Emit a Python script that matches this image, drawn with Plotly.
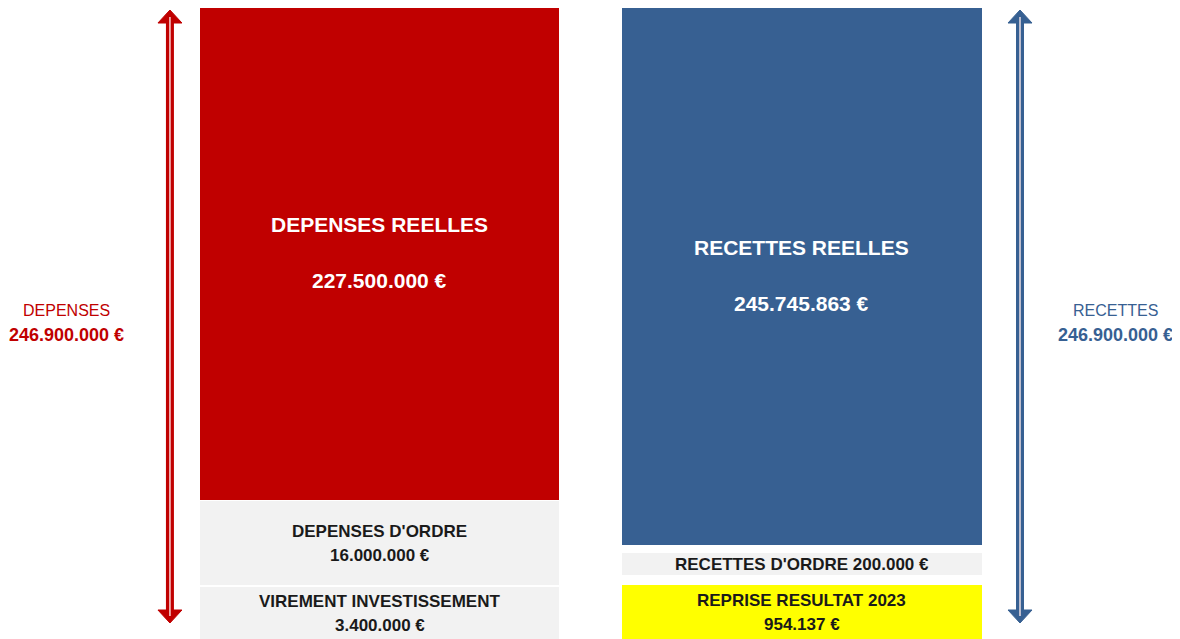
import plotly.graph_objects as go

# ---------------- data ----------------
categories = ["DEPENSES", "RECETTES"]

dep_labels = ["VIREMENT INVESTISSEMENT", "DEPENSES D'ORDRE", "DEPENSES REELLES"]
dep_amounts = [3400000, 16000000, 227500000]
dep_heights = [52, 84, 495]          # drawn segment heights
dep_gaps = [2, 1]                    # white gaps between segments

rec_labels = ["REPRISE RESULTAT 2023", "RECETTES D'ORDRE", "RECETTES REELLES"]
rec_amounts = [954137, 200000, 245745863]
rec_heights = [54, 22, 540]
rec_gaps = [10, 8]

totals = [246900000, 246900000]

dep_colors = ["#F2F2F2", "#F2F2F2", "#C00000"]
rec_colors = ["#FFFF00", "#F2F2F2", "#376092"]
side_colors = ["#C00000", "#376092"]

FONT = "Arial, Liberation Sans, sans-serif"


def fmt(v):
    return f"{v:,}".replace(",", ".") + " €"


fig = go.Figure()

# stacked layers
for i in range(3):
    fig.add_trace(go.Bar(
        x=categories, y=[dep_heights[i], rec_heights[i]],
        marker=dict(color=[dep_colors[i], rec_colors[i]], line=dict(width=0)),
        width=0.85, hoverinfo="skip", showlegend=False))
    if i < 2:
        fig.add_trace(go.Bar(
            x=categories, y=[dep_gaps[i], rec_gaps[i]],
            marker=dict(color="rgba(0,0,0,0)", line=dict(width=0)),
            width=0.85, hoverinfo="skip", showlegend=False))

annotations = []
for ci, (labels, amounts, heights, gaps) in enumerate([
        (dep_labels, dep_amounts, dep_heights, dep_gaps),
        (rec_labels, rec_amounts, rec_heights, rec_gaps)]):
    base = 0
    for i in range(3):
        h = heights[i]
        c = base + h / 2
        if i == 2:
            annotations.append(dict(x=ci, y=c + 28, text="<b>" + labels[i] + "</b>", showarrow=False,
                                    font=dict(family=FONT, size=21, color="white")))
            annotations.append(dict(x=ci, y=c - 28, text="<b>" + fmt(amounts[i]) + "</b>",
                                    showarrow=False,
                                    font=dict(family=FONT, size=21, color="white")))
        elif h < 30:
            annotations.append(dict(x=ci, y=c, text="<b>" + labels[i] + " " + fmt(amounts[i]) + "</b>",
                                    showarrow=False,
                                    font=dict(family=FONT, size=17, color="#1a1a1a")))
        else:
            annotations.append(dict(x=ci, y=c + 12, text="<b>" + labels[i] + "</b>",
                                    showarrow=False,
                                    font=dict(family=FONT, size=17, color="#1a1a1a")))
            annotations.append(dict(x=ci, y=c - 12, text="<b>" + fmt(amounts[i]) + "</b>",
                                    showarrow=False,
                                    font=dict(family=FONT, size=17, color="#1a1a1a")))
        base += h + (gaps[i] if i < 2 else 0)

# side totals
side_x = [-0.74, 1.743]
for ci in range(2):
    annotations.append(dict(x=side_x[ci], y=329, text=categories[ci], showarrow=False,
                            font=dict(family=FONT, size=16, color=side_colors[ci])))
    annotations.append(dict(x=side_x[ci], y=304, text="<b>" + fmt(totals[ci]) + "</b>",
                            showarrow=False,
                            font=dict(family=FONT, size=18, color=side_colors[ci])))

# double arrows
arrow_x = [-0.496, 1.516]
top_tip, bot_tip, head_h = 629, 16, 13
hw = 12 / 422.5
shapes = []
for ci in range(2):
    ax = arrow_x[ci]
    col = side_colors[ci]
    shapes.append(dict(type="line", xref="x", yref="y", x0=ax, x1=ax,
                       y0=bot_tip + head_h - 1, y1=top_tip - head_h + 1,
                       line=dict(color=col, width=8)))
    shapes.append(dict(type="path", xref="x", yref="y",
                       path=f"M {ax-hw},{top_tip-head_h} L {ax},{top_tip} L {ax+hw},{top_tip-head_h} Z",
                       fillcolor=col, line=dict(color=col, width=1)))
    shapes.append(dict(type="path", xref="x", yref="y",
                       path=f"M {ax-hw},{bot_tip+head_h} L {ax},{bot_tip} L {ax+hw},{bot_tip+head_h} Z",
                       fillcolor=col, line=dict(color=col, width=1)))
    shapes.append(dict(type="line", xref="x", yref="y", x0=ax, x1=ax,
                       y0=bot_tip + 7, y1=top_tip - 7,
                       line=dict(color="rgba(255,235,235,0.9)", width=1.5)))

# the page adds an 8px body margin, so the figure is 8px smaller than the window
fig.update_layout(
    barmode="stack", bargap=0,
    width=1172, height=631,
    margin=dict(l=0, r=0, t=0, b=0),
    paper_bgcolor="white", plot_bgcolor="white",
    xaxis=dict(range=[-0.8793, 1.8947], visible=False, type="category"),
    yaxis=dict(range=[0, 631], visible=False),
    annotations=annotations, shapes=shapes,
    showlegend=False,
)

fig.write_html("out.html")
